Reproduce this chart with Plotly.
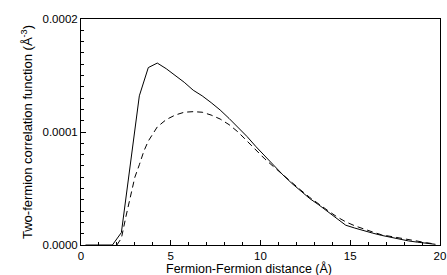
import plotly.graph_objects as go

r_solid = [0.25, 0.75, 1.25, 1.75, 2.25, 2.75, 3.25, 3.75, 4.25, 4.75, 5.25, 5.75, 6.25, 6.75,
           7.25, 7.75, 8.25, 8.75, 9.25, 9.75, 10.25, 10.75, 11.25, 11.75, 12.25, 12.75, 13.25,
           13.75, 14.25, 14.75, 15.25, 15.75, 16.25, 16.75, 17.25, 17.75, 18.25, 18.75, 19.25, 19.75]
g_solid = [0, 0, 0, 0, 1.1e-5, 7.1e-5, 1.32e-4, 1.57e-4, 1.61e-4, 1.56e-4, 1.50e-4, 1.44e-4,
           1.37e-4, 1.32e-4, 1.26e-4, 1.195e-4, 1.12e-4, 1.04e-4, 9.6e-5, 8.7e-5, 7.85e-5, 7.0e-5,
           6.2e-5, 5.45e-5, 4.75e-5, 4.1e-5, 3.55e-5, 2.95e-5, 2.35e-5, 1.75e-5, 1.5e-5, 1.25e-5,
           1.05e-5, 8.5e-6, 6.8e-6, 5.0e-6, 3.6e-6, 2.5e-6, 1.5e-6, 6e-7]

r_dash = [2.0, 2.25, 2.5, 2.75, 3.0, 3.25, 3.5, 3.75, 4.25, 4.75, 5.25, 5.75, 6.25, 6.75, 7.25,
          7.75, 8.25, 8.75, 9.25, 9.75, 10.25, 10.75, 11.25, 11.75, 12.25, 12.75, 13.25, 13.75,
          14.25, 14.75, 15.25, 15.75, 16.25, 16.75, 17.25, 17.75, 18.25, 18.75, 19.25, 19.75]
g_dash = [0, 6e-6, 2.5e-5, 4.4e-5, 6.0e-5, 7.1e-5, 8.3e-5, 9.2e-5, 1.045e-4, 1.11e-4, 1.15e-4,
          1.175e-4, 1.18e-4, 1.175e-4, 1.15e-4, 1.115e-4, 1.065e-4, 1.0e-4, 9.2e-5, 8.4e-5,
          7.6e-5, 6.9e-5, 6.2e-5, 5.55e-5, 4.85e-5, 4.2e-5, 3.6e-5, 3.05e-5, 2.5e-5, 2.05e-5,
          1.7e-5, 1.4e-5, 1.15e-5, 9e-6, 7.5e-6, 6e-6, 4.5e-6, 3.2e-6, 2e-6, 8e-7]

x_ticks = [0, 5, 10, 15, 20]
y_ticks = [0.0, 0.0001, 0.0002]
y_labels = ["0.0000", "0.0001", "0.0002"]
x_title = "Fermion-Fermion distance (Å)"
y_title = "Two-fermion correlation function (Å<sup>-3</sup>)"

fig = go.Figure()
fig.add_trace(go.Scatter(x=r_solid, y=g_solid, mode="lines",
                         line=dict(color="black", width=1), showlegend=False))
fig.add_trace(go.Scatter(x=r_dash, y=g_dash, mode="lines",
                         line=dict(color="black", width=1, dash="6px,4px"), showlegend=False))

font = dict(family="Liberation Sans, Arial, sans-serif", color="black")
fig.update_layout(
    width=447, height=275,
    margin=dict(l=81, r=7, t=19, b=30),
    paper_bgcolor="white", plot_bgcolor="white",
    font=dict(size=11.5, **font),
    xaxis=dict(range=[0, 20], tickvals=x_ticks, ticktext=[str(v) for v in x_ticks],
               ticks="inside", ticklen=5, tickwidth=1, tickcolor="black",
               minor=dict(dtick=1, ticks="inside", ticklen=3, tickcolor="black"),
               showline=True, linecolor="black", linewidth=1, mirror=True,
               showgrid=False, zeroline=False, automargin=False),
    yaxis=dict(range=[0, 0.0002], tickvals=y_ticks, ticktext=y_labels,
               ticks="inside", ticklen=5, tickwidth=1, tickcolor="black",
               minor=dict(dtick=0.00001, ticks="inside", ticklen=3, tickcolor="black"),
               showline=True, linecolor="black", linewidth=1, mirror=True,
               showgrid=False, zeroline=False, automargin=False,
               title=dict(text=y_title, font=dict(size=13, **font), standoff=6)),
    annotations=[dict(text=x_title, xref="paper", yref="paper", x=0.469, y=-0.143,
                      xanchor="center", yanchor="bottom", showarrow=False,
                      borderpad=0, font=dict(size=12.5, **font))],
)
fig.write_html("out.html", config={"displayModeBar": False},
               post_script="document.body.style.margin='0';document.body.style.overflow='hidden';")
